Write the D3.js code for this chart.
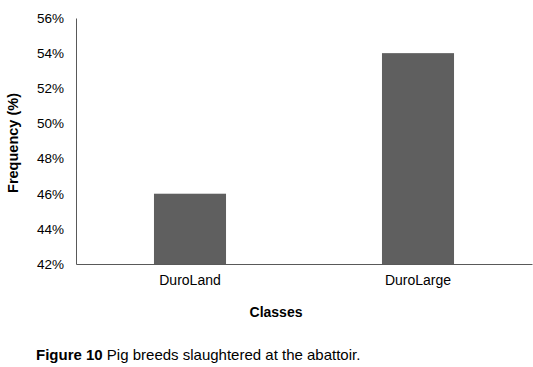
<!DOCTYPE html>
<html><head><meta charset="utf-8">
<script src="https://cdn.jsdelivr.net/npm/d3@7"></script>
<style>body{margin:0;background:#fff}svg{display:block;font-family:Arial,"Liberation Sans",sans-serif}</style>
</head><body><svg id="c" width="533" height="367"></svg>
<script>
const categories = ["DuroLand", "DuroLarge"];
const values = [46, 54];
const yTicks = [42, 44, 46, 48, 50, 52, 54, 56];

(function () {
const svg = d3.select("#c");
const mLeft = 76, mRight = 532, mTop = 18, mBottom = 264;
const x = d3.scaleBand().domain(categories).range([mLeft, mRight]).paddingInner(0.684).paddingOuter(0.342);
const y = d3.scaleLinear().domain([42, 56]).range([mBottom, mTop]);

svg.selectAll("rect.bar").data(values).enter().append("rect")
  .attr("class", "bar")
  .attr("x", (d, i) => x(categories[i]))
  .attr("width", x.bandwidth())
  .attr("y", d => y(d))
  .attr("height", d => y(42) - y(d))
  .attr("fill", "#5f5f5f");

const yAxis = svg.append("g").attr("transform", `translate(${mLeft},0)`)
  .call(d3.axisLeft(y).tickValues(yTicks).tickSize(0).tickPadding(12).tickFormat(d => d + "%"));
yAxis.select(".domain").attr("stroke", "#595959");
yAxis.selectAll("text").attr("font-size", 13.5).attr("fill", "#000").attr("font-family", "Arial, 'Liberation Sans', sans-serif");

const xAxis = svg.append("g").attr("transform", `translate(0,${mBottom})`)
  .call(d3.axisBottom(x).tickSize(0).tickPadding(11));
xAxis.select(".domain").attr("stroke", "#595959");
xAxis.selectAll("text").attr("font-size", 14).attr("fill", "#000").attr("font-family", "Arial, 'Liberation Sans', sans-serif");

svg.append("text").attr("transform", "translate(18,143) rotate(-90)")
  .attr("text-anchor", "middle").attr("font-size", 14.5).attr("font-weight", "bold").text("Frequency (%)");
svg.append("text").attr("x", 276).attr("y", 317)
  .attr("text-anchor", "middle").attr("font-size", 14).attr("font-weight", "bold").text("Classes");

const cap = svg.append("text").attr("x", 36).attr("y", 360).attr("font-size", 15);
cap.append("tspan").attr("font-weight", "bold").text("Figure 10");
cap.append("tspan").text(" Pig breeds slaughtered at the abattoir.");
})();
</script></body></html>
